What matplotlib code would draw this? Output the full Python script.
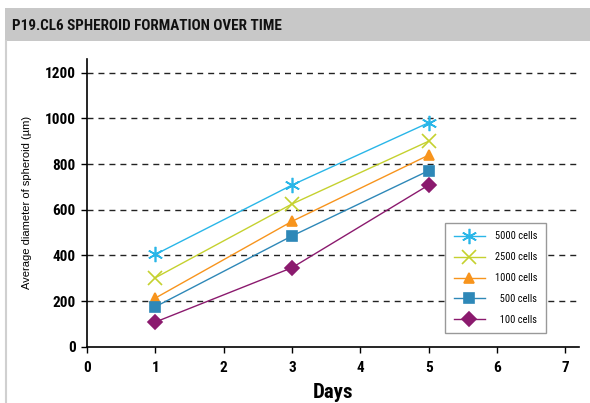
import matplotlib
matplotlib.use("Agg")
import matplotlib.pyplot as plt
from matplotlib.patches import Rectangle
from matplotlib.lines import Line2D
from matplotlib import font_manager

days = [1, 3, 5]
labels = ["5000 cells", "2500 cells", "1000 cells", "  500 cells", "  100 cells"]
values = [
    [404, 708, 981],
    [302, 625, 900],
    [213, 549, 839],
    [175, 485, 771],
    [108, 346, 708],
]
colors = ["#29b6e8", "#c5d12f", "#f7941d", "#2e88b8", "#8b1a6e"]
markers = [(6, 2, 0), "x", "^", "s", "D"]
msizes = [11, 10, 7, 7.5, 7.5]
xticks = [0, 1, 2, 3, 4, 5, 6, 7]
yticks = [0, 200, 400, 600, 800, 1000, 1200]
title = "P19.CL6 SPHEROID FORMATION OVER TIME"

names = {f.name for f in font_manager.fontManager.ttflist}
cond = [n for n in ["Roboto Condensed", "Archivo Narrow", "Liberation Sans"] if n in names] + ["DejaVu Sans"]
plain = ["Liberation Sans", "DejaVu Sans"]

W, H = 590, 403
fig = plt.figure(figsize=(W / 100, H / 100), dpi=100)
fig.patches.append(Rectangle((5 / W, 1 - 41 / H), 1, 33 / H, transform=fig.transFigure,
                             facecolor="#c8c8c8", edgecolor="none", zorder=0))
fig.lines.append(Line2D([6 / W, 6 / W], [0, 1 - 41 / H], transform=fig.transFigure,
                        color="#d0d0d0", lw=1.5))
fig.text(12 / W, 1 - 26 / H, title, family=cond, weight="bold", fontsize=10.9,
         va="center", ha="left", color="#111111")

ax = fig.add_axes([87 / W, (H - 346.7) / H, (579 - 87) / W, (346.7 - 59) / H])
ax.set_xlim(0, 7.2)
ax.set_ylim(0, 1260)
for s in ["top", "right"]:
    ax.spines[s].set_visible(False)
for s in ["left", "bottom"]:
    ax.spines[s].set_linewidth(1.2)
ax.set_xticks(xticks)
ax.set_yticks(yticks)
ax.tick_params(axis="both", length=4, width=1, direction="out", labelsize=11)
ax.tick_params(axis="x", pad=6)
ax.tick_params(axis="y", pad=4)
for lab in ax.get_xticklabels() + ax.get_yticklabels():
    lab.set_family(cond)
    lab.set_weight("bold")
for y in yticks[1:]:
    ax.axhline(y, color="#222222", lw=1, ls=(0, (4.3, 3.6)), zorder=1)

for vals, c, m, ms, lab in zip(values, colors, markers, msizes, labels):
    ax.plot(days, vals, color=c, lw=1, marker=m, markersize=ms,
            markerfacecolor=c, markeredgecolor=c, markeredgewidth=1.2,
            label=lab, zorder=3)

ax.set_ylabel("Average diameter of spheroid (µm)", family=plain, fontsize=8, labelpad=9)
ax.set_xlabel("Days", family=cond, weight="bold", fontsize=15, labelpad=6)

leg = ax.legend(loc="upper left", bbox_to_anchor=(0.728, 0.43), fancybox=False,
                edgecolor="#999999", framealpha=1, prop={"family": cond, "size": 7.5},
                handlelength=3.0, labelspacing=1.05, borderpad=0.8, handletextpad=1.0,
                borderaxespad=0)
leg.get_frame().set_linewidth(1)

fig.savefig("out.png", dpi=100)
